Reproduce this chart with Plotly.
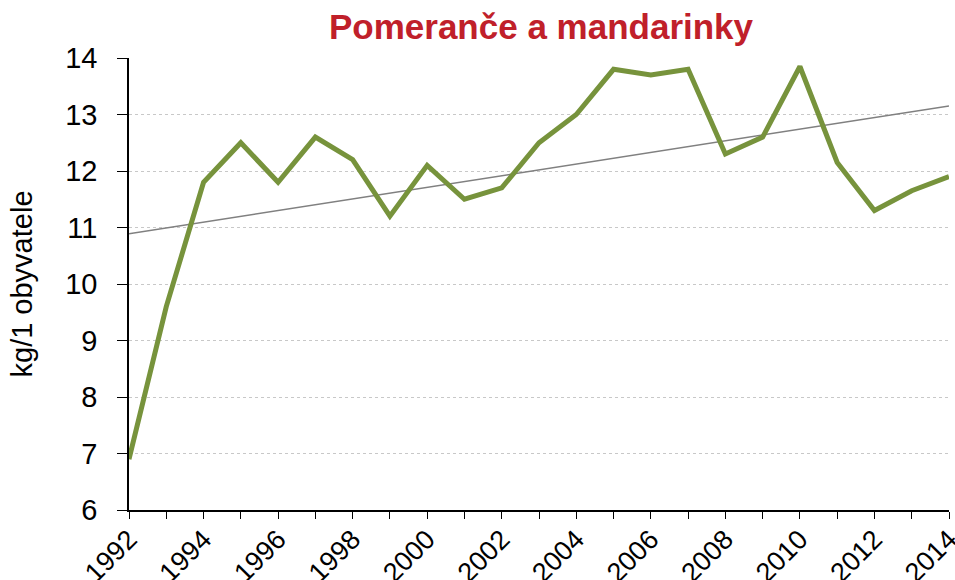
import numpy as np
import plotly.graph_objects as go

years = list(range(1992, 2015))
values = [6.9, 9.6, 11.8, 12.5, 11.8, 12.6, 12.2, 11.2, 12.1, 11.5, 11.7, 12.5,
          13.0, 13.8, 13.7, 13.8, 12.3, 12.6, 13.85, 12.15, 11.3, 11.65, 11.9]
title_text = "Pomeranče a mandarinky"
y_title = "kg/1 obyvatele"

slope, intercept = np.polyfit(years, values, 1)
trend = [slope * x + intercept for x in years]

FONT = "Liberation Sans, Arial, sans-serif"

fig = go.Figure()
fig.add_trace(go.Scatter(x=years, y=trend, mode="lines",
                         line=dict(color="#808080", width=1.5), hoverinfo="skip"))
fig.add_trace(go.Scatter(x=years, y=values, mode="lines",
                         line=dict(color="#77933C", width=5)))

fig.update_layout(
    width=955, height=580,
    margin=dict(l=129, r=6, t=58, b=70, autoexpand=False),
    paper_bgcolor="white", plot_bgcolor="white",
    showlegend=False,
    font=dict(family=FONT, color="black"),
    title=dict(text="<b>" + title_text + "</b>", x=541 / 955, xanchor="center",
               xref="container", y=1 - 27 / 580, yanchor="middle", yref="container",
               font=dict(size=35, color="#C0202A", family=FONT)),
    xaxis=dict(range=[1992, 2014], tickmode="linear", tick0=1992, dtick=2,
               tickangle=-45, tickfont=dict(size=27), ticklabeloverflow="allow",
               automargin=False, ticklabelstandoff=-6,
               showline=True, linecolor="black", linewidth=1.5,
               ticks="outside", ticklen=7, tickcolor="black",
               minor=dict(dtick=1, tick0=1992, ticks="outside", ticklen=7, tickcolor="black"),
               showgrid=False, zeroline=False),
    yaxis=dict(range=[6, 14], tickmode="linear", tick0=6, dtick=1,
               tickfont=dict(size=29), automargin=False,
               showline=True, linecolor="black", linewidth=1.5,
               ticks="outside", ticklen=10, tickcolor="black", ticklabelstandoff=14,
               showgrid=True, gridcolor="#C8C8C8", griddash="dot", gridwidth=1,
               zeroline=False,
               title=dict(text=y_title, font=dict(size=29), standoff=24)),
)

fig.write_html("out.html", config={"displayModeBar": False},
               post_script="document.body.style.margin='0px';document.body.style.overflow='hidden';")
